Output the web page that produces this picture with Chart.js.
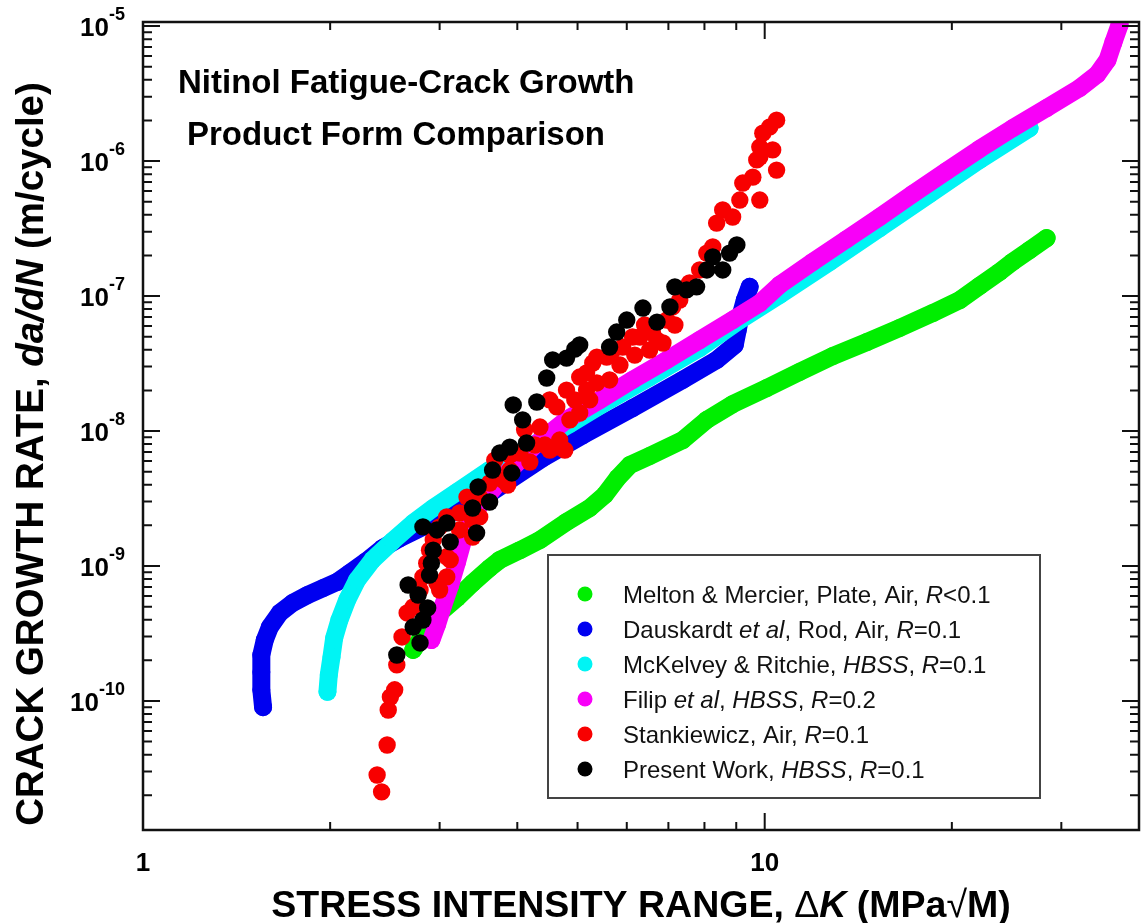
<!DOCTYPE html>
<html>
<head>
<meta charset="utf-8">
<title>Nitinol Fatigue-Crack Growth</title>
<script src="https://cdn.jsdelivr.net/npm/chart.js@4.4.0/dist/chart.umd.min.js"></script>
<style>
  html, body { margin: 0; padding: 0; background: #fff; }
</style>
</head>
<body>
<canvas id="fcgChart" width="1148" height="923"></canvas>
<script>
// ΔK (MPa√m) against da/dN (m/cycle), one pair of arrays per data set
const meltonK = [2.72, 2.79, 2.89, 3.00, 3.20, 3.39, 3.61, 3.75, 4.04, 4.35, 4.80, 5.23, 5.53, 5.80, 6.07, 6.53, 7.38, 8.07, 8.88, 10.07, 11.38, 12.86, 14.59, 16.48, 18.63, 20.59, 22.17, 23.87, 25.04, 26.67, 28.41];
const meltonRate = [2.39e-10, 2.83e-10, 3.66e-10, 4.49e-10, 5.80e-10, 7.48e-10, 9.66e-10, 1.11e-9, 1.31e-9, 1.56e-9, 2.12e-9, 2.69e-9, 3.36e-9, 4.49e-9, 5.60e-9, 6.53e-9, 8.57e-9, 1.21e-8, 1.58e-8, 2.08e-8, 2.74e-8, 3.59e-8, 4.56e-8, 5.80e-8, 7.48e-8, 9.33e-8, 1.19e-7, 1.51e-7, 1.79e-7, 2.19e-7, 2.69e-7];

const dauskardtK = [1.56, 1.55, 1.55, 1.55, 1.57, 1.60, 1.66, 1.74, 1.84, 1.95, 2.05, 2.15, 2.29, 2.43, 2.59, 2.82, 3.00, 3.23, 3.52, 3.89, 4.40, 5.10, 6.13, 7.38, 8.37, 8.95, 9.05, 9.15, 9.29, 9.46];
const dauskardtRate = [9.0e-11, 1.21e-10, 1.64e-10, 2.19e-10, 2.83e-10, 3.53e-10, 4.49e-10, 5.32e-10, 6.10e-10, 6.87e-10, 7.60e-10, 8.87e-10, 1.09e-9, 1.36e-9, 1.61e-9, 1.95e-9, 2.27e-9, 2.60e-9, 3.19e-9, 4.34e-9, 6.31e-9, 9.33e-9, 1.48e-8, 2.39e-8, 3.36e-8, 4.34e-8, 5.60e-8, 7.23e-8, 9.33e-8, 1.17e-7];

const mckelveyK = [1.98, 1.99, 2.01, 2.03, 2.07, 2.13, 2.21, 2.34, 2.52, 2.72, 2.93, 3.20, 3.61, 4.19, 4.86, 5.63, 6.53, 7.86, 9.12, 10.57, 12.72, 15.31, 18.42, 22.17, 26.67];
const mckelveyRate = [1.17e-10, 1.56e-10, 2.12e-10, 2.93e-10, 3.98e-10, 5.60e-10, 7.87e-10, 1.11e-9, 1.53e-9, 2.08e-9, 2.69e-9, 3.53e-9, 5.14e-9, 7.60e-9, 1.13e-8, 1.70e-8, 2.51e-8, 4.12e-8, 6.64e-8, 1.02e-7, 1.79e-7, 3.19e-7, 5.70e-7, 1.02e-6, 1.75e-6];

const filipK = [2.91, 2.97, 3.04, 3.12, 3.20, 3.29, 3.48, 3.82, 4.27, 4.80, 5.43, 6.13, 6.96, 7.86, 8.88, 9.82, 10.57, 11.95, 13.55, 15.31, 17.29, 19.62, 22.17, 25.04, 28.41, 32.09, 34.30, 35.59, 36.39, 37.22];
const filipRate = [2.83e-10, 3.66e-10, 5.14e-10, 7.23e-10, 1.07e-9, 1.70e-9, 2.83e-9, 4.72e-9, 7.87e-9, 1.21e-8, 1.70e-8, 2.39e-8, 3.36e-8, 4.72e-8, 6.64e-8, 8.87e-8, 1.21e-7, 1.79e-7, 2.64e-7, 3.85e-7, 5.70e-7, 8.44e-7, 1.23e-6, 1.75e-6, 2.47e-6, 3.47e-6, 4.41e-6, 5.60e-6, 7.60e-6, 1.02e-5];

const stankK = [2.42, 2.38, 2.47, 2.48, 2.50, 2.54, 2.56, 2.61, 2.66, 2.72,
  2.79, 2.82, 2.86, 2.89, 2.93, 3.00, 3.08, 3.23, 3.12, 3.08,
  3.00, 2.97, 3.39, 3.48, 3.32, 3.61, 3.08, 3.39, 3.48, 3.79,
  4.04, 4.35, 4.63, 4.80, 5.04, 5.29, 5.57, 5.91, 6.30, 6.60,
  6.86, 6.96, 7.30, 7.57, 4.68, 5.04, 5.17, 5.37, 4.63, 4.51,
  5.17, 5.37, 5.70, 6.13, 6.71, 7.11, 7.86, 8.07, 8.25, 8.37,
  8.56, 8.88, 9.12, 9.22, 9.57, 9.82, 9.71, 9.82, 9.93, 10.19,
  10.45, 10.30, 10.45, 9.82, 3.89, 4.19, 4.43, 4.77, 4.95, 3.23,
  3.68, 3.89, 4.11, 4.27, 4.86, 5.23, 5.63, 5.85, 6.18, 6.53,
  6.41, 7.17, 3.86, 4.51];
const stankRate = [2.12e-11, 2.83e-11, 4.72e-11, 8.57e-11, 1.07e-10, 1.21e-10, 1.85e-10, 2.98e-10, 4.49e-10, 4.97e-10,
  6.64e-10, 8.30e-10, 1.05e-9, 1.31e-9, 1.56e-9, 1.95e-9, 2.31e-9, 2.47e-9, 1.11e-9, 8.30e-10,
  6.64e-10, 7.48e-10, 1.64e-9, 2.31e-9, 3.24e-9, 4.12e-9, 1.17e-9, 2.19e-9, 3.24e-9, 4.34e-9,
  6.87e-9, 1.07e-8, 1.51e-8, 2.01e-8, 2.51e-8, 3.19e-8, 3.53e-8, 4.19e-8, 4.97e-8, 5.32e-8,
  4.49e-8, 6.64e-8, 9.33e-8, 1.25e-7, 8.57e-9, 1.36e-8, 2.01e-8, 2.27e-8, 7.60e-9, 1.70e-8,
  2.69e-8, 3.53e-8, 3.98e-8, 4.97e-8, 4.72e-8, 8.30e-8, 1.56e-7, 2.08e-7, 2.31e-7, 3.47e-7,
  4.34e-7, 3.85e-7, 5.14e-7, 6.87e-7, 7.60e-7, 5.14e-7, 1.02e-6, 1.27e-6, 1.61e-6, 1.79e-6,
  2.01e-6, 1.21e-6, 8.57e-7, 1.07e-6, 5.14e-9, 5.89e-9, 7.87e-9, 7.23e-9, 1.70e-8, 1.85e-9,
  6.09e-9, 6.64e-9, 1.02e-8, 7.87e-9, 1.21e-8, 1.70e-8, 2.39e-8, 3.08e-8, 3.65e-8, 3.98e-8,
  6.10e-8, 6.10e-8, 3.98e-9, 7.23e-9];

const presentK = [2.56, 2.79, 2.72, 2.82, 2.87, 2.77, 2.67, 2.89, 2.91, 2.93,
  3.12, 2.97, 3.08, 2.82, 3.44, 3.39, 3.61, 3.46, 3.65, 3.75,
  3.89, 3.92, 4.14, 3.94, 4.08, 4.30, 4.46, 4.56, 4.80, 4.95,
  5.04, 5.63, 5.78, 6.00, 6.37, 6.71, 7.04, 7.17, 7.49, 7.77,
  8.07, 8.25, 8.56, 8.78, 9.02];
const presentRate = [2.19e-10, 2.69e-10, 3.53e-10, 3.98e-10, 4.89e-10, 6.10e-10, 7.23e-10, 8.57e-10, 1.05e-9, 1.31e-9,
  1.51e-9, 1.85e-9, 2.08e-9, 1.95e-9, 1.76e-9, 2.69e-9, 2.98e-9, 3.85e-9, 5.14e-9, 6.87e-9,
  7.60e-9, 4.89e-9, 8.15e-9, 1.56e-8, 1.21e-8, 1.64e-8, 2.47e-8, 3.36e-8, 3.47e-8, 4.04e-8,
  4.34e-8, 4.19e-8, 5.41e-8, 6.64e-8, 8.15e-8, 6.41e-8, 8.30e-8, 1.17e-7, 1.11e-7, 1.17e-7,
  1.56e-7, 1.95e-7, 1.56e-7, 2.08e-7, 2.39e-7];

// axis ticks
const xMajorTicks = [1, 10];
const xMinorTicks = [2, 3, 4, 5, 6, 7, 8, 9, 20, 30];
const xTickLabels = ['1', '10'];
const yDecadeExps = [-5, -6, -7, -8, -9, -10];

const FAMILY = '"Liberation Sans", Arial, Helvetica, sans-serif';
const font = (style, size) => `${style} ${size}px ${FAMILY}`;

// text runs: [text, style]
const runsWidth = (ctx, runs, size) => runs.reduce((w, [t, s]) => {
  ctx.font = font(s, size);
  return w + ctx.measureText(t).width;
}, 0);

function drawRuns(ctx, runs, x, y, size) {
  runs.forEach(([t, s]) => {
    ctx.font = font(s, size);
    ctx.fillText(t, x, y);
    x += ctx.measureText(t).width;
  });
}

const pts = (k, r) => k.map((v, i) => ({ x: v, y: r[i] }));

// dense curves: overlapping markers joined by a line of the same width
const curve = (label, k, r, color, order) => ({
  label, data: pts(k, r), order,
  showLine: true, borderColor: color, backgroundColor: color,
  borderWidth: 18, borderJoinStyle: 'round', borderCapStyle: 'round',
  pointRadius: 9, pointBorderWidth: 0, pointHoverRadius: 0, tension: 0, clip: 0
});

const dots = (label, k, r, color, order) => ({
  label, data: pts(k, r), order,
  showLine: false, backgroundColor: color, borderColor: color,
  pointRadius: 8.7, pointBorderWidth: 0, pointHoverRadius: 0, clip: 0
});

// lower order is painted last (on top)
const datasets = [
  curve('Melton & Mercier, Plate, Air, R<0.1', meltonK, meltonRate, '#00ee00', 5),
  curve('Dauskardt et al, Rod, Air, R=0.1', dauskardtK, dauskardtRate, '#0000f0', 4),
  curve('McKelvey & Ritchie, HBSS, R=0.1', mckelveyK, mckelveyRate, '#00f4f4', 3),
  curve('Filip et al, HBSS, R=0.2', filipK, filipRate, '#f800f8', 2),
  dots('Stankiewicz, Air, R=0.1', stankK, stankRate, '#f80000', 1),
  dots('Present Work, HBSS, R=0.1', presentK, presentRate, '#000000', 0)
];

// legend lines with the italic parts split out
const legendRuns = [
  [['Melton & Mercier, Plate, Air, ', ''], ['R', 'italic'], ['<0.1', '']],
  [['Dauskardt ', ''], ['et al', 'italic'], [', Rod, Air, ', ''], ['R', 'italic'], ['=0.1', '']],
  [['McKelvey & Ritchie, ', ''], ['HBSS', 'italic'], [', ', ''], ['R', 'italic'], ['=0.1', '']],
  [['Filip ', ''], ['et al', 'italic'], [', ', ''], ['HBSS', 'italic'], [', ', ''], ['R', 'italic'], ['=0.2', '']],
  [['Stankiewicz, Air, ', ''], ['R', 'italic'], ['=0.1', '']],
  [['Present Work, ', ''], ['HBSS', 'italic'], [', ', ''], ['R', 'italic'], ['=0.1', '']]
];

const decorations = {
  id: 'decorations',
  afterDatasetsDraw(chart) {
    const { ctx, chartArea: a, scales: { x, y } } = chart;
    ctx.save();
    ctx.fillStyle = '#000';
    ctx.strokeStyle = '#111';

    // frame
    ctx.lineWidth = 2.5;
    ctx.strokeRect(a.left, a.top, a.right - a.left, a.bottom - a.top);

    // inward ticks on all four sides
    ctx.lineWidth = 2;
    const hTick = (px, len) => {
      ctx.beginPath();
      ctx.moveTo(px, a.bottom); ctx.lineTo(px, a.bottom - len);
      ctx.moveTo(px, a.top); ctx.lineTo(px, a.top + len);
      ctx.stroke();
    };
    const vTick = (py, len) => {
      ctx.beginPath();
      ctx.moveTo(a.left, py); ctx.lineTo(a.left + len, py);
      ctx.moveTo(a.right, py); ctx.lineTo(a.right - len, py);
      ctx.stroke();
    };
    xMajorTicks.forEach(v => hTick(x.getPixelForValue(v), 17));
    xMinorTicks.forEach(v => hTick(x.getPixelForValue(v), 8));
    for (let e = -11; e <= -5; e++) {
      for (let m = 1; m <= 9; m++) {
        const v = m * Math.pow(10, e);
        if (v < y.min || v > y.max) continue;
        vTick(y.getPixelForValue(v), m === 1 ? 17 : 9);
      }
    }

    // tick labels
    ctx.textAlign = 'center';
    ctx.textBaseline = 'alphabetic';
    ctx.font = font('bold', 26);
    xMajorTicks.forEach((v, i) => ctx.fillText(xTickLabels[i], x.getPixelForValue(v), 871));

    ctx.textAlign = 'left';
    yDecadeExps.forEach(e => {
      const py = y.getPixelForValue(Math.pow(10, e));
      const sup = String(e);
      ctx.font = font('bold', 18);
      const sw = ctx.measureText(sup).width;
      ctx.font = font('bold', 26);
      const bw = ctx.measureText('10').width;
      const right = a.left - 18;
      ctx.fillText('10', right - sw - bw, py + 10);
      ctx.font = font('bold', 18);
      ctx.fillText(sup, right - sw, py - 6);
    });

    // axis titles
    const xTitle = [['STRESS INTENSITY RANGE, ', 'bold'], ['\u0394', ''], ['K', 'italic bold'], [' (MPa', 'bold'], ['\u221A', ''], ['M)', 'bold']];
    const xw = runsWidth(ctx, xTitle, 37.5);
    drawRuns(ctx, xTitle, (a.left + a.right) / 2 - xw / 2, 917, 37.5);

    const yTitle = [['CRACK GROWTH RATE, ', 'bold'], ['da/dN', 'italic bold'], [' (m/cycle)', 'bold']];
    const yw = runsWidth(ctx, yTitle, 38.5);
    ctx.save();
    ctx.translate(43, 454);
    ctx.rotate(-Math.PI / 2);
    drawRuns(ctx, yTitle, -yw / 2, 0, 38.5);
    ctx.restore();

    // title inside the plot
    ctx.font = font('bold', 33);
    ctx.fillText('Nitinol Fatigue-Crack Growth', a.left + 35, 93);
    ctx.fillText('Product Form Comparison', a.left + 44, 145);

    // legend box
    const box = { left: 548, top: 555, right: 1040, bottom: 798 };
    ctx.fillStyle = '#fff';
    ctx.fillRect(box.left, box.top, box.right - box.left, box.bottom - box.top);
    ctx.strokeStyle = '#444';
    ctx.lineWidth = 2;
    ctx.strokeRect(box.left, box.top, box.right - box.left, box.bottom - box.top);
    legendRuns.forEach((runs, i) => {
      const cy = 594 + i * 35;
      ctx.fillStyle = chart.data.datasets[i].backgroundColor;
      ctx.beginPath();
      ctx.arc(585, cy, 7.5, 0, Math.PI * 2);
      ctx.fill();
      ctx.fillStyle = '#111';
      drawRuns(ctx, runs, 623, cy + 8.5, 24);
    });

    ctx.restore();
  }
};

new Chart(document.getElementById('fcgChart'), {
  type: 'scatter',
  data: { datasets },
  options: {
    responsive: false,
    animation: false,
    devicePixelRatio: 1,
    layout: { padding: { left: 143, top: 22, right: 9, bottom: 93 } },
    plugins: { legend: { display: false }, tooltip: { enabled: false } },
    events: [],
    scales: {
      x: {
        type: 'logarithmic', min: 1, max: 40,
        grid: { display: false, drawTicks: false }, border: { display: false },
        ticks: { display: false }, title: { display: false }
      },
      y: {
        type: 'logarithmic', min: 1.107e-11, max: 1.072e-5,
        grid: { display: false, drawTicks: false }, border: { display: false },
        ticks: { display: false }, title: { display: false }
      }
    }
  },
  plugins: [decorations]
});
</script>
</body>
</html>
